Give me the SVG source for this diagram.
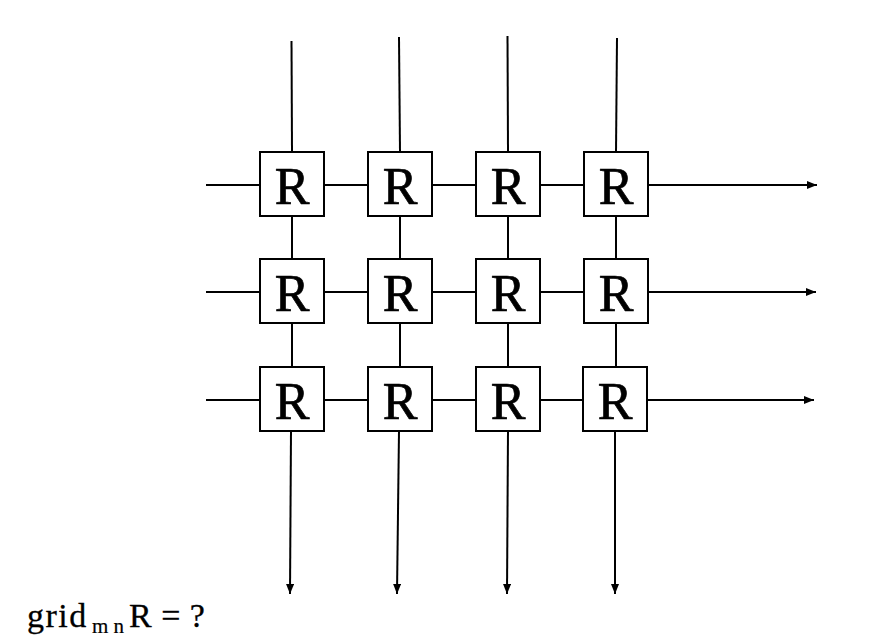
<svg xmlns="http://www.w3.org/2000/svg" width="882" height="642" viewBox="0 0 882 642">
<style>
.ln{stroke:#000;stroke-width:2;fill:none}
.bx{fill:#fff;stroke:#000;stroke-width:2}
.lbl{font-family:"Liberation Serif","Times New Roman",serif;font-size:52px;text-anchor:middle;fill:#000;stroke:#000;stroke-width:0.7}
.cap{font-family:"Liberation Serif","Times New Roman",serif;font-size:34px;fill:#000;stroke:#000;stroke-width:0.3}
.sub{font-family:"Liberation Serif","Times New Roman",serif;font-size:21px;fill:#000;stroke:#000;stroke-width:0.2}
</style>
<defs>
<marker id="ah" viewBox="0 0 10 8" refX="10" refY="4" markerWidth="10" markerHeight="8" markerUnits="userSpaceOnUse" orient="auto">
<path d="M0,0L10,4L0,8z" fill="#000"/>
</marker>
</defs>
<rect width="882" height="642" fill="#fff"/>
<g id="connectors">
<line class="ln" x1="291.5" y1="41" x2="292" y2="152"/>
<line class="ln" x1="399" y1="37" x2="400" y2="152"/>
<line class="ln" x1="507.5" y1="36" x2="508" y2="152"/>
<line class="ln" x1="617" y1="38" x2="616" y2="152"/>
<line class="ln" x1="206" y1="185" x2="260" y2="185"/>
<line class="ln" x1="206" y1="292" x2="260" y2="292"/>
<line class="ln" x1="206" y1="400" x2="260" y2="400"/>
<line class="ln" x1="324" y1="185" x2="368" y2="185"/>
<line class="ln" x1="432" y1="185" x2="476" y2="185"/>
<line class="ln" x1="540" y1="185" x2="584" y2="185"/>
<line class="ln" x1="324" y1="292" x2="368" y2="292"/>
<line class="ln" x1="432" y1="292" x2="476" y2="292"/>
<line class="ln" x1="540" y1="292" x2="584" y2="292"/>
<line class="ln" x1="324" y1="400" x2="368" y2="400"/>
<line class="ln" x1="432" y1="400" x2="476" y2="400"/>
<line class="ln" x1="540" y1="400" x2="583" y2="400"/>
<line class="ln" x1="292" y1="216" x2="292" y2="259"/>
<line class="ln" x1="400" y1="216" x2="400" y2="259"/>
<line class="ln" x1="508" y1="216" x2="508" y2="259"/>
<line class="ln" x1="616" y1="216" x2="616" y2="259"/>
<line class="ln" x1="292" y1="323" x2="292" y2="367"/>
<line class="ln" x1="400" y1="323" x2="400" y2="367"/>
<line class="ln" x1="508" y1="323" x2="508" y2="367"/>
<line class="ln" x1="616" y1="323" x2="616" y2="367"/>
<line class="ln" x1="648" y1="185" x2="817" y2="185" marker-end="url(#ah)"/>
<line class="ln" x1="648" y1="292" x2="816" y2="292" marker-end="url(#ah)"/>
<line class="ln" x1="647" y1="400" x2="814" y2="400" marker-end="url(#ah)"/>
<line class="ln" x1="291" y1="431" x2="290" y2="594" marker-end="url(#ah)"/>
<line class="ln" x1="399" y1="431" x2="397" y2="594" marker-end="url(#ah)"/>
<line class="ln" x1="508" y1="431" x2="507" y2="594" marker-end="url(#ah)"/>
<line class="ln" x1="615" y1="431" x2="615" y2="594" marker-end="url(#ah)"/>
</g>
<g id="r11"><rect class="bx" x="260" y="152" width="64" height="64"/><text class="lbl" x="292" y="204">R</text></g>
<g id="r12"><rect class="bx" x="368" y="152" width="64" height="64"/><text class="lbl" x="400" y="204">R</text></g>
<g id="r13"><rect class="bx" x="476" y="152" width="64" height="64"/><text class="lbl" x="508" y="204">R</text></g>
<g id="r14"><rect class="bx" x="584" y="152" width="64" height="64"/><text class="lbl" x="616" y="204">R</text></g>
<g id="r21"><rect class="bx" x="260" y="259" width="64" height="64"/><text class="lbl" x="292" y="311">R</text></g>
<g id="r22"><rect class="bx" x="368" y="259" width="64" height="64"/><text class="lbl" x="400" y="311">R</text></g>
<g id="r23"><rect class="bx" x="476" y="259" width="64" height="64"/><text class="lbl" x="508" y="311">R</text></g>
<g id="r24"><rect class="bx" x="584" y="259" width="64" height="64"/><text class="lbl" x="616" y="311">R</text></g>
<g id="r31"><rect class="bx" x="260" y="367" width="64" height="64"/><text class="lbl" x="292" y="419">R</text></g>
<g id="r32"><rect class="bx" x="368" y="367" width="64" height="64"/><text class="lbl" x="400" y="419">R</text></g>
<g id="r33"><rect class="bx" x="476" y="367" width="64" height="64"/><text class="lbl" x="508" y="419">R</text></g>
<g id="r34"><rect class="bx" x="583" y="367" width="64" height="64"/><text class="lbl" x="615" y="419">R</text></g>
<g id="caption">
<text class="cap" x="27" y="627" letter-spacing="1.5">grid</text>
<text class="sub" x="92" y="633">m n</text>
<text class="cap" x="129" y="627" letter-spacing="0.5">R = ?</text>
</g>
</svg>
